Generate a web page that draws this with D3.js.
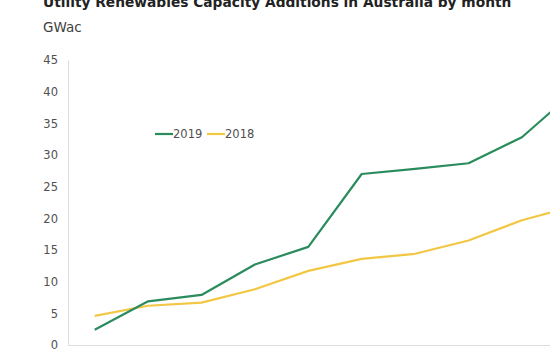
<!DOCTYPE html>
<html>
<head>
<meta charset="utf-8">
<script src="https://cdn.jsdelivr.net/npm/d3@7"></script>
<style>
  html, body { margin: 0; padding: 0; background: #fff; }
  svg { display: block; }
  text { font-family: "DejaVu Sans", Verdana, sans-serif; }
</style>
</head>
<body>
<svg id="chart" width="550" height="350"></svg>
<script>
// Monthly cumulative utility-scale renewable capacity (GWac)
const months = ["Jan", "Feb", "Mar", "Apr", "May", "Jun", "Jul", "Aug", "Sep", "Oct", "Nov", "Dec"];
const values2019 = [2.4, 6.9, 7.9, 12.7, 15.5, 27.0, 27.8, 28.7, 32.8, 40.2];
const values2018 = [4.6, 6.2, 6.7, 8.8, 11.7, 13.6, 14.4, 16.5, 19.7, 22.0];
const yTicks = [0, 5, 10, 15, 20, 25, 30, 35, 40, 45];

const series = [
  { name: "2019", values: values2019, color: "#2a8c5c" },
  { name: "2018", values: values2018, color: "#f2c744" }
];

const svg = d3.select("#chart");
const plot = { left: 68, top: 60, bottom: 345, step: 53.4 };

const x = d3.scalePoint()
  .domain(months)
  .range([plot.left, plot.left + plot.step * months.length])
  .padding(0.5);

const y = d3.scaleLinear().domain([0, 45]).range([plot.bottom, plot.top]);

// Title and unit label
const title = svg.append("text")
  .attr("x", 43).attr("y", 7)
  .attr("font-size", 15).attr("font-weight", "bold").attr("fill", "#222")
  .text("Utility Renewables Capacity Additions in Australia by month");
const tw = title.node().getComputedTextLength();
title.attr("font-size", 15 * 469 / tw);

svg.append("text")
  .attr("x", 43).attr("y", 32)
  .attr("font-size", 13.5).attr("fill", "#404040")
  .text("GWac");

// Y axis
const yAxis = svg.append("g")
  .attr("transform", `translate(${plot.left},0)`)
  .call(d3.axisLeft(y).tickValues(yTicks).tickSize(0).tickPadding(10));
yAxis.select(".domain").attr("stroke", "#dcdcdc");
yAxis.selectAll("text")
  .attr("font-family", "DejaVu Sans, Verdana, sans-serif")
  .attr("font-size", 11.5).attr("fill", "#505050");

// X axis baseline; month labels sit below the visible area
const xAxis = svg.append("g")
  .attr("transform", `translate(0,${plot.bottom})`)
  .call(d3.axisBottom(x).tickSize(0).tickFormat(""));
xAxis.select(".domain").attr("stroke", "#dcdcdc");

// Lines
const line = d3.line()
  .x((d, i) => x(months[i]))
  .y(d => y(d));

svg.selectAll("path.series")
  .data(series.slice().reverse())
  .join("path")
  .attr("class", "series")
  .attr("fill", "none")
  .attr("stroke", d => d.color)
  .attr("stroke-width", 2.2)
  .attr("stroke-linejoin", "round")
  .attr("d", d => line(d.values));

// Legend
const legend = svg.append("g").attr("transform", "translate(155,134)");
const items = [
  { s: series[0], x: 0 },
  { s: series[1], x: 52 }
];
items.forEach(it => {
  const g = legend.append("g").attr("transform", `translate(${it.x},0)`);
  g.append("line")
    .attr("x1", 0).attr("x2", 18).attr("y1", 0).attr("y2", 0)
    .attr("stroke", it.s.color).attr("stroke-width", 2.2);
  g.append("text")
    .attr("x", 18).attr("y", 4)
    .attr("font-size", 11.5).attr("fill", "#505050")
    .text(it.s.name);
});
</script>
</body>
</html>
